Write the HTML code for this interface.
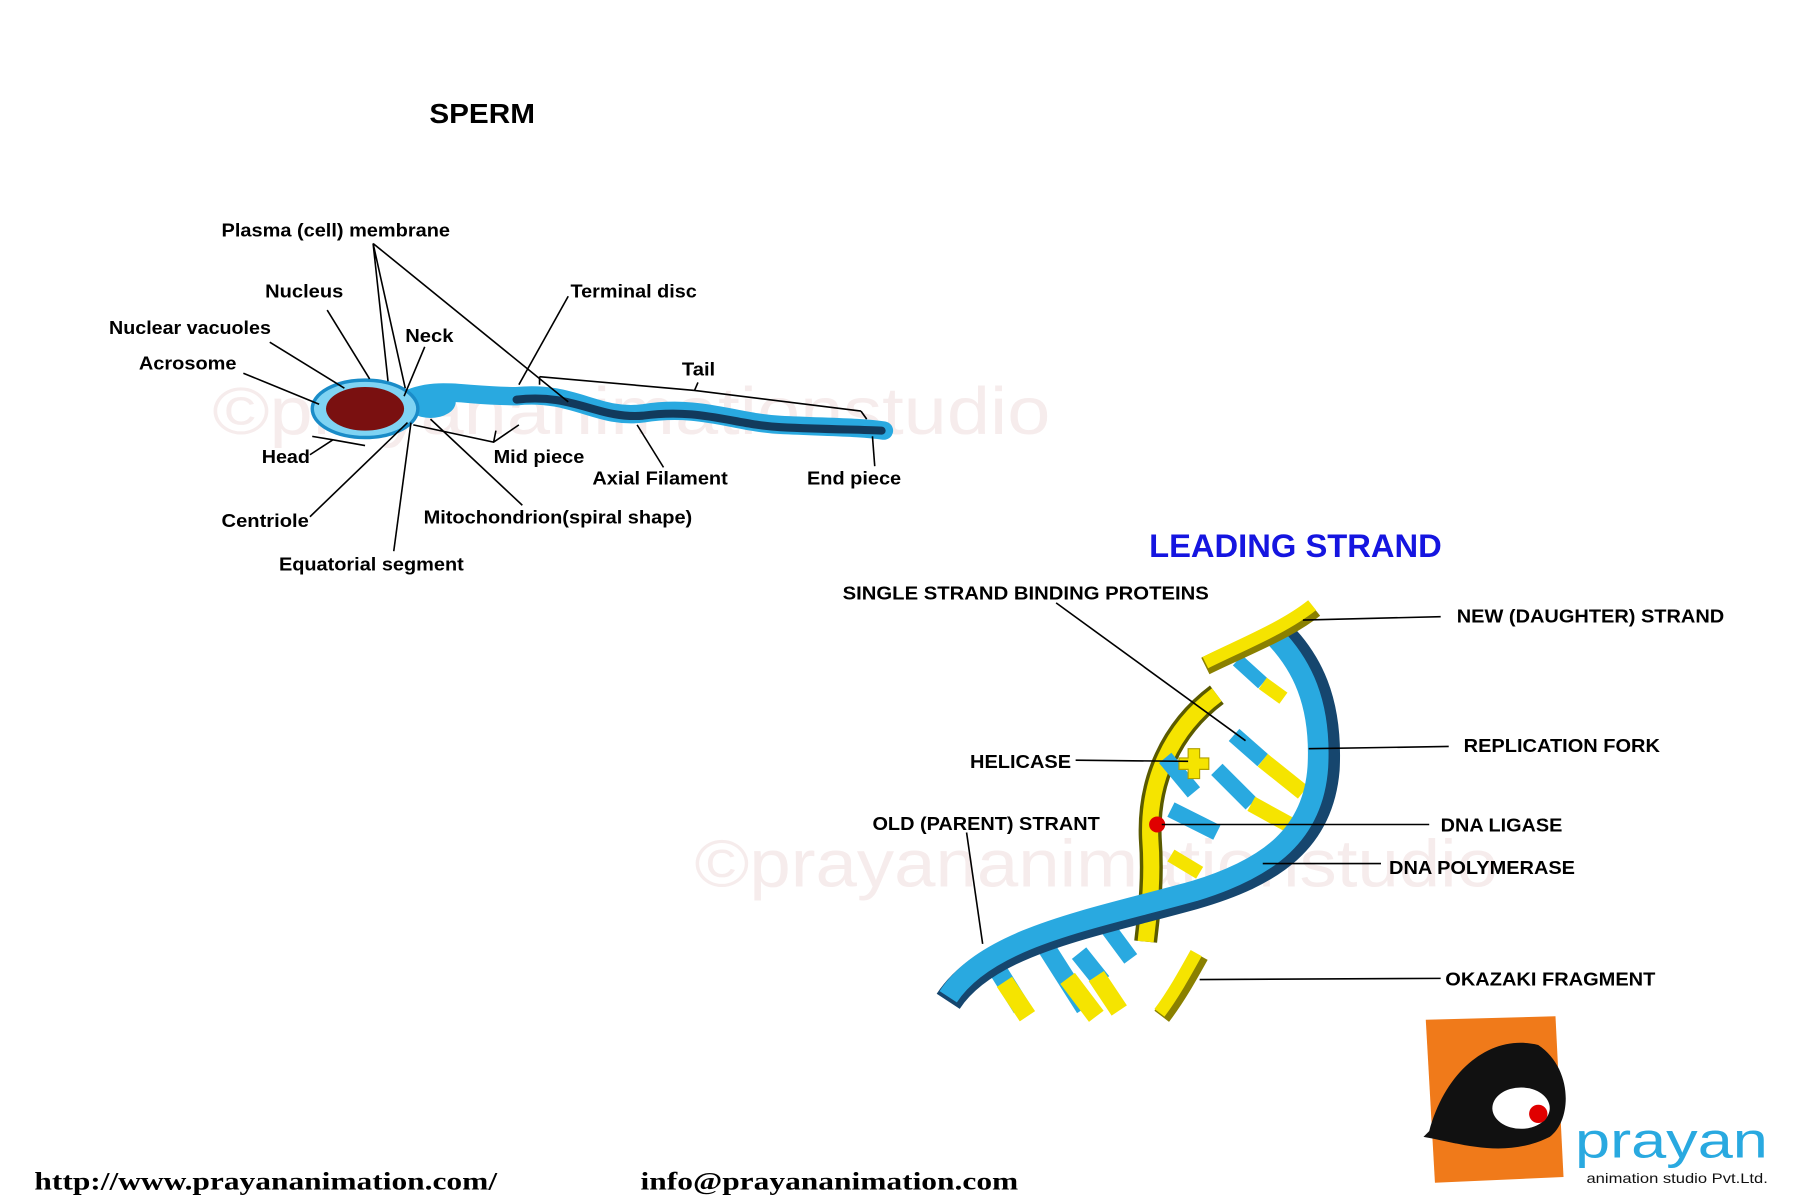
<!DOCTYPE html>
<html><head><meta charset="utf-8"><style>
html,body{margin:0;padding:0;background:#fff;}
svg{display:block;}
text{font-family:"Liberation Sans",Arial,sans-serif;font-weight:bold;}
</style></head><body>
<svg width="1800" height="1200" viewBox="0 0 1568 1045" preserveAspectRatio="none" xmlns="http://www.w3.org/2000/svg">
<rect width="1568" height="1045" fill="#fff"/>
<!-- watermarks -->
<text x="185" y="378" font-size="58" fill="#f6ecec" style="font-weight:normal" textLength="730" lengthAdjust="spacingAndGlyphs">©prayananimationstudio</text>
<text x="605" y="772" font-size="58" fill="#f6ecec" style="font-weight:normal" textLength="700" lengthAdjust="spacingAndGlyphs">©prayananimationstudio</text>

<text x="374" y="107" font-size="24" fill="#000" textLength="92" lengthAdjust="spacingAndGlyphs">SPERM</text>

<!-- sperm body -->
<path d="M350,350 C380,335 400,345 450,345 C500,340 520,365 560,360 C610,352 640,368 680,370 C720,372 750,372 770,375" fill="none" stroke="#29a9e0" stroke-width="16" stroke-linecap="round"/>
<path d="M450,348 C500,342 520,365 560,362 C610,355 640,370 680,372 C720,374 750,374 768,375" fill="none" stroke="#123a5c" stroke-width="7" stroke-linecap="round"/>
<ellipse cx="375" cy="350" rx="22" ry="14" fill="#29a9e0"/>
<ellipse cx="318" cy="356" rx="46" ry="25" fill="#7fd3f3" stroke="#1a8cc8" stroke-width="3"/>
<ellipse cx="318" cy="356" rx="34" ry="19" fill="#7a1010"/>

<g stroke="#000" stroke-width="1.4" fill="none">
<path d="M325,212 L338,332 M325,212 L495,350 M325,212 L353,338"/>
<path d="M285,270 L322,330"/>
<path d="M235,298 L300,338"/>
<path d="M212,325 L278,352"/>
<path d="M370,302 L352,345"/>
<path d="M495,258 L452,335"/>
<path d="M470,328 L605,340 L750,358 M470,328 L470,335 M750,358 L755,365 M605,340 L608,333"/>
<path d="M270,396 L290,383 M290,383 L318,388 M272,380 L290,383"/>
<path d="M270,450 L355,368"/>
<path d="M343,480 L358,368"/>
<path d="M360,370 L430,385 L452,370 M430,385 L432,375"/>
<path d="M455,440 L375,365"/>
<path d="M578,407 L555,370"/>
<path d="M762,406 L760,380"/>
</g>
<g font-size="16" fill="#000" style="" >
<text x="193" y="206" textLength="199" lengthAdjust="spacingAndGlyphs">Plasma (cell) membrane</text>
<text x="231" y="259" textLength="68" lengthAdjust="spacingAndGlyphs">Nucleus</text>
<text x="95" y="291" textLength="141" lengthAdjust="spacingAndGlyphs">Nuclear vacuoles</text>
<text x="353" y="298" textLength="42" lengthAdjust="spacingAndGlyphs">Neck</text>
<text x="121" y="322" textLength="85" lengthAdjust="spacingAndGlyphs">Acrosome</text>
<text x="497" y="259" textLength="110" lengthAdjust="spacingAndGlyphs">Terminal disc</text>
<text x="594" y="327" textLength="29" lengthAdjust="spacingAndGlyphs">Tail</text>
<text x="228" y="403" textLength="42" lengthAdjust="spacingAndGlyphs">Head</text>
<text x="430" y="403" textLength="79" lengthAdjust="spacingAndGlyphs">Mid piece</text>
<text x="516" y="422" textLength="118" lengthAdjust="spacingAndGlyphs">Axial Filament</text>
<text x="703" y="422" textLength="82" lengthAdjust="spacingAndGlyphs">End piece</text>
<text x="193" y="459" textLength="76" lengthAdjust="spacingAndGlyphs">Centriole</text>
<text x="369" y="456" textLength="234" lengthAdjust="spacingAndGlyphs">Mitochondrion(spiral shape)</text>
<text x="243" y="497" textLength="161" lengthAdjust="spacingAndGlyphs">Equatorial segment</text>
</g>

<text x="1001" y="485" font-size="28" fill="#1515e0" textLength="255" lengthAdjust="spacingAndGlyphs">LEADING STRAND</text>

<!-- DNA -->
<g stroke-linecap="butt" fill="none">
<path d="M860,830 L890,878" stroke="#29a9e0" stroke-width="16"/>
<path d="M875,855 L895,885" stroke="#f5e400" stroke-width="16"/>
<path d="M905,815 L945,878" stroke="#29a9e0" stroke-width="16"/>
<path d="M930,852 L955,885" stroke="#f5e400" stroke-width="16"/>
<path d="M940,830 L960,855" stroke="#29a9e0" stroke-width="16"/>
<path d="M955,850 L975,880" stroke="#f5e400" stroke-width="16"/>
<path d="M965,808 L985,835" stroke="#29a9e0" stroke-width="14"/>
<path d="M1060,605 C1020,635 1000,680 1002,730 C1005,770 1000,800 998,820" stroke="#5a5a00" stroke-width="20"/>
<path d="M1060,605 C1020,635 1000,680 1002,730 C1005,770 1000,800 998,820" stroke="#f5e400" stroke-width="14"/>
<path d="M1015,660 L1040,690" stroke="#29a9e0" stroke-width="14"/>
<path d="M1020,705 L1060,725" stroke="#29a9e0" stroke-width="14"/>
<path d="M1060,670 L1090,700" stroke="#29a9e0" stroke-width="14"/>
<path d="M1090,700 L1130,722" stroke="#f5e400" stroke-width="14"/>
<path d="M1075,640 L1100,662" stroke="#29a9e0" stroke-width="14"/>
<path d="M1100,662 L1135,690" stroke="#f5e400" stroke-width="14"/>
<path d="M1078,575 L1100,595" stroke="#29a9e0" stroke-width="12"/>
<path d="M1100,595 L1118,608" stroke="#f5e400" stroke-width="12"/>
<path d="M1020,745 L1045,760" stroke="#f5e400" stroke-width="12"/>
<path d="M826,872 C860,820 950,805 1040,780 C1110,760 1150,730 1155,670 C1158,610 1140,575 1112,548" stroke="#16466e" stroke-width="24"/>
<path d="M826,868 C860,816 950,801 1040,776 C1106,756 1144,726 1148,668 C1151,612 1134,578 1108,552" stroke="#29a9e0" stroke-width="18"/>
<path d="M1050,580 C1080,565 1120,550 1145,530" stroke="#8a8000" stroke-width="16"/>
<path d="M1050,577 C1080,562 1118,547 1143,527" stroke="#f5e400" stroke-width="11"/>
<path d="M1045,832 C1035,850 1025,868 1012,885" stroke="#8a8000" stroke-width="16"/>
<path d="M1042,830 C1032,848 1022,866 1010,882" stroke="#f5e400" stroke-width="11"/>
</g>
<path d="M1035,652 h10 v8 h8 v10 h-8 v8 h-10 v-8 h-8 v-10 h8z" fill="#f5e400" stroke="#b0a000"/>
<circle cx="1008" cy="718" r="7" fill="#e00000"/>

<g stroke="#000" stroke-width="1.4" fill="none">
<path d="M920,525 L1085,645"/>
<path d="M1135,540 L1255,537"/>
<path d="M1140,652 L1262,650"/>
<path d="M937,662 L1035,663"/>
<path d="M1012,718 L1245,718"/>
<path d="M1100,752 L1203,752"/>
<path d="M842,725 L856,822"/>
<path d="M1045,853 L1255,852"/>
</g>
<g font-size="16" fill="#000">
<text x="734" y="522" textLength="319" lengthAdjust="spacingAndGlyphs">SINGLE  STRAND BINDING PROTEINS</text>
<text x="1269" y="542" textLength="233" lengthAdjust="spacingAndGlyphs">NEW (DAUGHTER) STRAND</text>
<text x="1275" y="655" textLength="171" lengthAdjust="spacingAndGlyphs">REPLICATION FORK</text>
<text x="845" y="669" textLength="88" lengthAdjust="spacingAndGlyphs">HELICASE</text>
<text x="760" y="723" textLength="198" lengthAdjust="spacingAndGlyphs">OLD (PARENT) STRANT</text>
<text x="1255" y="724" textLength="106" lengthAdjust="spacingAndGlyphs">DNA LIGASE</text>
<text x="1210" y="761" textLength="162" lengthAdjust="spacingAndGlyphs">DNA POLYMERASE</text>
<text x="1259" y="858" textLength="183" lengthAdjust="spacingAndGlyphs">OKAZAKI FRAGMENT</text>
</g>

<!-- logo -->
<path d="M1242,888 L1355,885 L1362,1025 L1250,1030 Z" fill="#f07a1a"/>
<path d="M1245,985 C1260,930 1300,900 1340,910 C1370,930 1370,975 1350,990 C1310,1010 1270,995 1240,990 Z" fill="#111"/>
<ellipse cx="1325" cy="965" rx="25" ry="18" fill="#fff"/>
<circle cx="1340" cy="970" r="8" fill="#e00000"/>
<text x="1372" y="1008" font-size="44" fill="#29a9e0" style="font-weight:normal" textLength="168" lengthAdjust="spacingAndGlyphs">prayan</text>
<text x="1382" y="1030" font-size="12" fill="#111" style="font-weight:normal" textLength="158" lengthAdjust="spacingAndGlyphs">animation studio Pvt.Ltd.</text>

<text x="30" y="1036" font-size="22" fill="#000" style="font-family:'Liberation Serif',serif" textLength="403" lengthAdjust="spacingAndGlyphs">http://www.prayananimation.com/</text>
<text x="558" y="1036" font-size="22" fill="#000" style="font-family:'Liberation Serif',serif" textLength="329" lengthAdjust="spacingAndGlyphs">info@prayananimation.com</text>
</svg>
</body></html>
